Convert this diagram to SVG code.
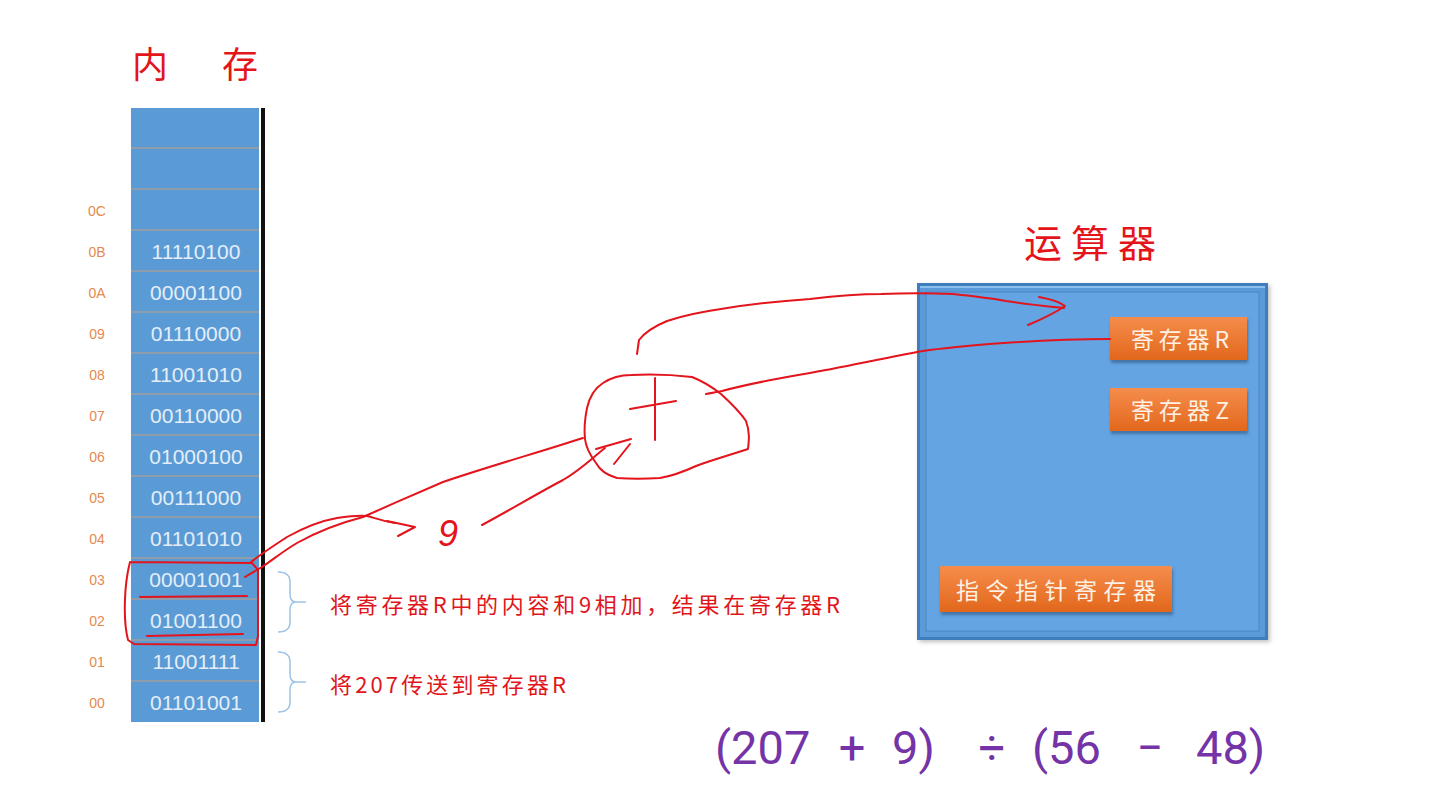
<svg xmlns="http://www.w3.org/2000/svg" width="1455" height="809" viewBox="0 0 1455 809">
<defs>
<linearGradient id="og" x1="0" y1="0" x2="0" y2="1">
<stop offset="0" stop-color="#f58d4c"/><stop offset="1" stop-color="#e2671c"/>
</linearGradient>
<filter id="sh" x="-10%" y="-20%" width="130%" height="160%"><feDropShadow dx="1" dy="3" stdDeviation="1.5" flood-color="#1d3f66" flood-opacity="0.5"/></filter>
<filter id="sh2" x="-5%" y="-5%" width="115%" height="115%"><feDropShadow dx="2" dy="2" stdDeviation="2" flood-color="#000" flood-opacity="0.25"/></filter>
</defs>
<style>
.cell{fill:#5b9bd5}
.bits{font-family:"Liberation Sans",Arial,sans-serif;font-size:21px;fill:#e4eefa;text-anchor:middle}
.addr{font-family:"Liberation Sans",Arial,sans-serif;font-size:14px;fill:#e58a4e;text-anchor:middle}
.title{font-family:"Noto Sans CJK SC",sans-serif;fill:#e3151a}
.note{font-family:"Noto Sans CJK SC",sans-serif;font-size:22px;fill:#e0161b}
.reg{font-family:"Noto Sans CJK SC",sans-serif;font-size:23px;fill:#fdf0e4;text-anchor:middle}
.ink{fill:none;stroke:#e3141c;stroke-width:2;stroke-linecap:round;stroke-linejoin:round}
.brace{fill:none;stroke:#9dc3e6;stroke-width:1.5}
.math{font-family:Roboto,"Liberation Sans",sans-serif;font-size:47px;fill:#7434a8}
</style>
<rect width="1455" height="809" fill="#ffffff"/>

<g id="memory-title">
<text class="title" x="132" y="78" font-size="36">内</text>
<text class="title" x="222" y="78" font-size="36">存</text>
</g>

<g id="memory">
<rect x="131" y="108" width="128" height="614" fill="#8e9cab"/>
<rect class="cell" x="131" y="108" width="128" height="39"/>
<rect class="cell" x="131" y="149" width="128" height="39"/>
<rect class="cell" x="131" y="190" width="128" height="39"/>
<rect class="cell" x="131" y="231" width="128" height="39"/>
<rect class="cell" x="131" y="272" width="128" height="39"/>
<rect class="cell" x="131" y="313" width="128" height="39"/>
<rect class="cell" x="131" y="354" width="128" height="39"/>
<rect class="cell" x="131" y="395" width="128" height="39"/>
<rect class="cell" x="131" y="436" width="128" height="39"/>
<rect class="cell" x="131" y="477" width="128" height="39"/>
<rect class="cell" x="131" y="518" width="128" height="39"/>
<rect class="cell" x="131" y="559" width="128" height="39"/>
<rect class="cell" x="131" y="600" width="128" height="39"/>
<rect class="cell" x="131" y="641" width="128" height="39"/>
<rect class="cell" x="131" y="682" width="128" height="40"/>
<rect x="261" y="108" width="4" height="614" fill="#111"/>
<text class="bits" x="196" y="259">11110100</text>
<text class="bits" x="196" y="300">00001100</text>
<text class="bits" x="196" y="341">01110000</text>
<text class="bits" x="196" y="382">11001010</text>
<text class="bits" x="196" y="423">00110000</text>
<text class="bits" x="196" y="464">01000100</text>
<text class="bits" x="196" y="505">00111000</text>
<text class="bits" x="196" y="546">01101010</text>
<text class="bits" x="196" y="587">00001001</text>
<text class="bits" x="196" y="628">01001100</text>
<text class="bits" x="196" y="669">11001111</text>
<text class="bits" x="196" y="710">01101001</text>
<text class="addr" x="97" y="216">0C</text>
<text class="addr" x="97" y="257">0B</text>
<text class="addr" x="97" y="298">0A</text>
<text class="addr" x="97" y="339">09</text>
<text class="addr" x="97" y="380">08</text>
<text class="addr" x="97" y="421">07</text>
<text class="addr" x="97" y="462">06</text>
<text class="addr" x="97" y="503">05</text>
<text class="addr" x="97" y="544">04</text>
<text class="addr" x="97" y="585">03</text>
<text class="addr" x="97" y="626">02</text>
<text class="addr" x="97" y="667">01</text>
<text class="addr" x="97" y="708">00</text>
</g>

<g id="notes">
<path class="brace" d="M278,572 Q290,572 290,582 L290,594 Q290,602 296,602 L306,602 M296,602 Q290,602 290,610 L290,622 Q290,632 278,632"/>
<path class="brace" d="M278,652 Q290,652 290,662 L290,674 Q290,682 296,682 L306,682 M296,682 Q290,682 290,690 L290,702 Q290,712 278,712"/>
<text class="note" x="330" y="613" textLength="510" lengthAdjust="spacing">将寄存器R中的内容和9相加，结果在寄存器R</text>
<text class="note" x="330" y="693" textLength="236" lengthAdjust="spacing">将207传送到寄存器R</text>
</g>

<g id="alu-title">
<text class="title" x="1024" y="257" font-size="38" textLength="132" lengthAdjust="spacing">运算器</text>
</g>

<g id="alu">
<rect x="917" y="283" width="351" height="357" fill="#3f7dbd" filter="url(#sh2)"/>
<rect x="920" y="286" width="345" height="351" fill="#5a9ad8"/>
<rect x="926" y="292" width="333" height="339" fill="#64a4e2" stroke="#4a86c4" stroke-width="1"/>
<line x1="920" y1="287" x2="1265" y2="287" stroke="#8cc0f0" stroke-width="2"/>
</g>

<g id="reg-r">
<rect x="1110" y="317" width="137" height="43" fill="url(#og)" filter="url(#sh)"/>
<text class="reg" x="1180" y="348" textLength="98" lengthAdjust="spacing">寄存器R</text>
</g>
<g id="reg-z">
<rect x="1110" y="388" width="137" height="43" fill="url(#og)" filter="url(#sh)"/>
<text class="reg" x="1180" y="419" textLength="98" lengthAdjust="spacing">寄存器Z</text>
</g>
<g id="reg-ip">
<rect x="940" y="566" width="232" height="46" fill="url(#og)" filter="url(#sh)"/>
<text class="reg" x="1056" y="599" font-size="25" textLength="200" lengthAdjust="spacing">指令指针寄存器</text>
</g>

<g id="formula">
<text class="math" x="715" y="764">(207</text>
<text class="math" x="852" y="764" text-anchor="middle">+</text>
<text class="math" x="892" y="764">9)</text>
<text class="math" x="992" y="764" text-anchor="middle">÷</text>
<text class="math" x="1032" y="764">(56</text>
<text class="math" x="1150" y="764" text-anchor="middle">−</text>
<text class="math" x="1196" y="764">48)</text>
</g>

<g id="connectors">
<path class="ink" d="M130,562 C124,585 123,620 128,640 L134,644 L256,645 L258,636 L258,570 L252,563 L130,562"/>
<path class="ink" d="M140,597 L247,596"/>
<path class="ink" d="M147,636 L243,634"/>
<path class="ink" d="M245,577 L262,567 C275,558 285,550 297,543 C320,530 340,523 363,517 C390,505 415,494 443,482 C490,466 540,452 583,438"/>
<path class="ink" d="M250,563 C262,553 275,545 287,537 C305,527 320,521 337,518 C350,516 360,515 367,516 C375,518 382,521 395,523"/>
<path class="ink" d="M387,521 L415,527 L398,536"/>
<text x="438" y="546" font-family="Liberation Sans,sans-serif" font-style="italic" font-size="36" fill="#e3141c">9</text>
<path class="ink" d="M482,525 C510,510 540,492 563,480 C580,470 590,460 605,448"/>
<path class="ink" d="M596,449 L631,439 M614,464 L630,444"/>
<path class="ink" d="M587,408 C590,395 595,388 603,383 C612,377 622,375 631,375 C650,374 675,375 692,377 C705,382 712,387 721,394 C732,404 740,412 746,421 C750,432 749,440 748,449 C730,455 712,460 696,466 C683,472 672,476 660,478 C645,479 630,479 617,478 C605,474 600,470 596,463 C590,455 586,448 585,439 C584,430 585,418 587,408"/>
<path class="ink" d="M655,378 L655,440 M630,409 L676,401"/>
<path class="ink" d="M706,394 C712,393 716,392 722,391 C752,383 780,378 810,373 C850,366 885,358 917,352 C940,348 965,346 989,344 C1030,341 1070,339 1110,339"/>
<path class="ink" d="M637,354 L639,340 C645,332 655,326 667,321 C685,315 700,312 721,309 C752,304 780,301 810,299 C835,296 860,294 881,294 C905,293 930,293 953,294 C972,296 990,298 1006,301 C1025,304 1045,306 1064,308"/>
<path class="ink" d="M1039,297 C1050,299 1060,302 1065,306 C1055,313 1040,320 1028,325"/>
</g>
</svg>
